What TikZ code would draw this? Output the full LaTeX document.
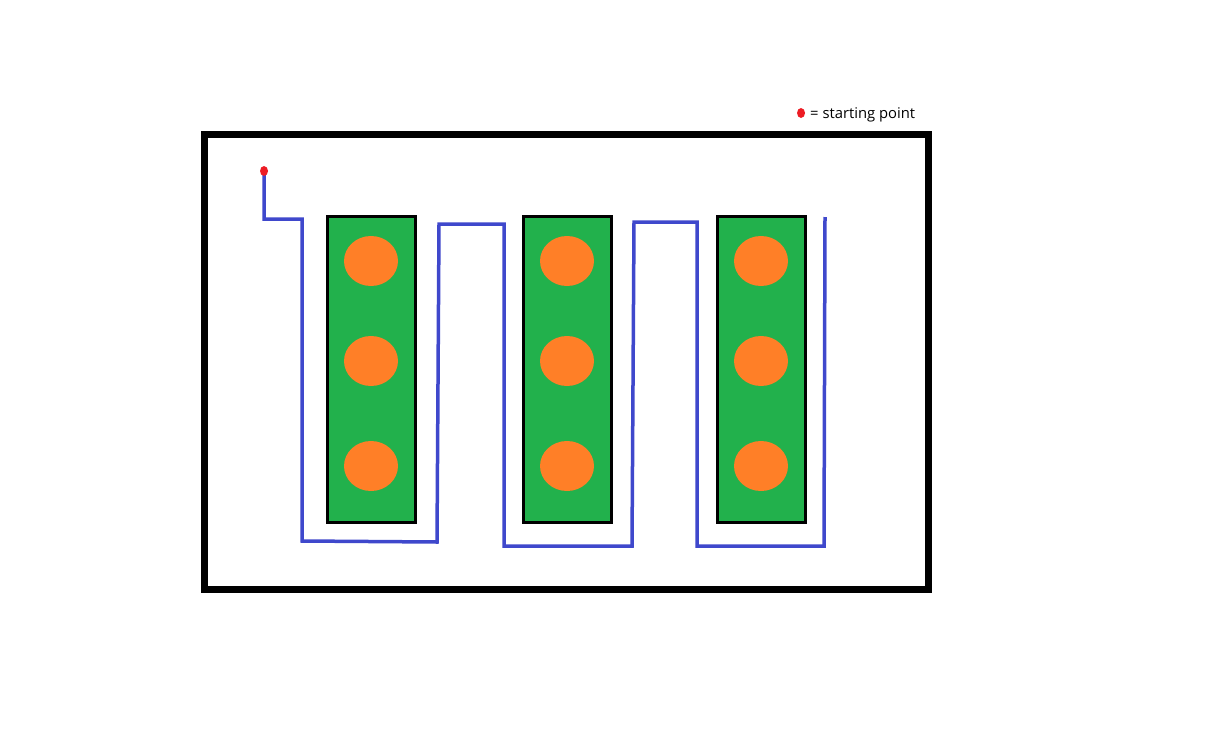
\documentclass[tikz,border=0pt]{standalone}
\usepackage{fontspec}
\setmainfont{Open Sans}
\definecolor{pgreen}{HTML}{22B14C}
\definecolor{porange}{HTML}{FF7F27}
\definecolor{pblue}{HTML}{3F48CC}
\definecolor{pred}{HTML}{ED1C24}
\begin{document}
\begin{tikzpicture}[x=1pt,y=-1pt,
  bed/.style={draw=black,line width=3pt,fill=pgreen},
  route/.style={draw=pblue,line width=3.5pt,line join=miter}]
\useasboundingbox (0,0) rectangle (1212,728);
\fill[white] (0,0) rectangle (1212,728);
\draw[line width=7pt] (204,134) rectangle (928,589);
% beds
\foreach \cx in {371,567,761}{
  \path[bed] (\cx-44,216) rectangle (\cx+44,522);
  \foreach \cy in {261,361,466}{
    \fill[porange] (\cx,\cy) ellipse [x radius=27, y radius=25];
  }
}
% route
\coordinate (start) at (264,171);
\coordinate (endp) at (825,217);
\draw[route] (start) -- (264,219) -- (302,219) -- (302,541) -- (437,542) -- (439,224) -- (504,224) -- (504,546) -- (632,546) -- (634,222) -- (697,222) -- (697,546) -- (824,546) -- (endp);
\fill[pred] (start) ellipse [x radius=4, y radius=5];
% legend
\fill[pred] (801,113) ellipse [x radius=4, y radius=5];
\node[anchor=west,font=\fontsize{14.8}{16}\selectfont,inner sep=0pt] (leg) at (810,114.5) {= starting point};
\end{tikzpicture}
\end{document}
